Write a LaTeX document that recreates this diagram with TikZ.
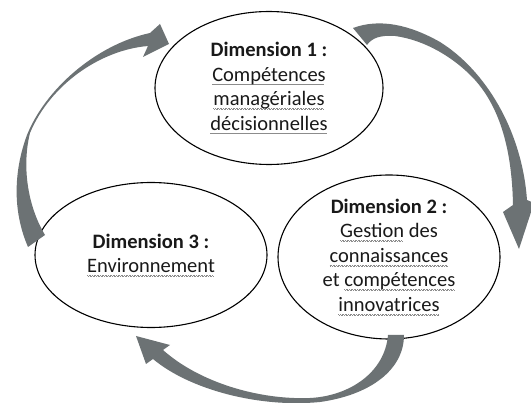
\documentclass[tikz,border=0pt]{standalone}
\usepackage{fontspec}
\setmainfont{Carlito}
\usetikzlibrary{shapes.geometric}
\definecolor{arrowgray}{RGB}{108,114,116}
\definecolor{inkgray}{RGB}{25,25,25}
\definecolor{wavegray}{RGB}{140,140,140}
\newsavebox\wordbox
\newlength\sqwd
\newcommand\wavepiece{\hbox{\raisebox{0.7pt}{\rule{0.8pt}{0.45pt}}\rule{0.8pt}{0.45pt}}}
\newcommand\sq[1]{\sbox\wordbox{#1}\setlength\sqwd{\wd\wordbox}%
  \leavevmode\rlap{\raisebox{-3.6pt}{\color{wavegray}\hbox to \sqwd{\leaders\wavepiece\hfill}}}\usebox\wordbox}
\tikzset{
  dimell/.style={draw=black, line width=1.1pt, ellipse, inner sep=0pt, align=center,
    text=inkgray, font=\fontsize{20.5}{24.5}\selectfont},
  bigarrow/.style={fill=arrowgray, draw=none}
}
\begin{document}
\begin{tikzpicture}[x=1pt,y=-1pt]
\useasboundingbox (0,0) rectangle (531,403);
\fill[white] (0,0) rectangle (531,403);

\node[dimell, minimum width=228pt, minimum height=153pt] (d1) at (269,88)
  {\textbf{Dimension 1 :}\\\sq{Compétences}\\\sq{managériales}\\\sq{décisionnelles}};
\node[dimell, minimum width=222pt, minimum height=150pt] (d2) at (389,257)
  {\textbf{Dimension 2 :}\\\sq{Gestion} des\\\sq{connaissances}\\et \sq{compétences}\\\sq{innovatrices}};
\node[dimell, minimum width=232pt, minimum height=145pt] (d3) at (151,255)
  {\textbf{Dimension 3 :}\\\sq{Environnement}};

% arrow from Dimension 3 to Dimension 1
\fill[bigarrow] (28,247) .. controls (12,210) and (14,170) .. (27,135)
  .. controls (45,90) and (95,45) .. (150,33)
  -- (160,24) -- (169,44) -- (143,57) -- (148,46)
  .. controls (100,50) and (50,85) .. (30,133)
  .. controls (22,165) and (27,205) .. (45,235) -- cycle;

% arrow from Dimension 1 to Dimension 2
\fill[bigarrow] (353,28) .. controls (380,18) and (410,25) .. (440,42)
  .. controls (485,70) and (522,130) .. (527,200)
  -- (534,203) -- (519,249) -- (503,212) -- (513,205)
  .. controls (512,150) and (500,108) .. (475,80)
  .. controls (455,58) and (425,40) .. (395,36)
  .. controls (380,35) and (372,38) .. (367,45) -- cycle;

% arrow from Dimension 2 to Dimension 3
\fill[bigarrow] (404,335) .. controls (404,370) and (370,395) .. (320,402)
  .. controls (260,408) and (190,390) .. (153,359)
  -- (146,364) -- (136,336) -- (170,345) -- (163,350)
  .. controls (200,383) and (260,400) .. (310,398)
  .. controls (350,396) and (385,372) .. (388,335) -- cycle;
\end{tikzpicture}
\end{document}
